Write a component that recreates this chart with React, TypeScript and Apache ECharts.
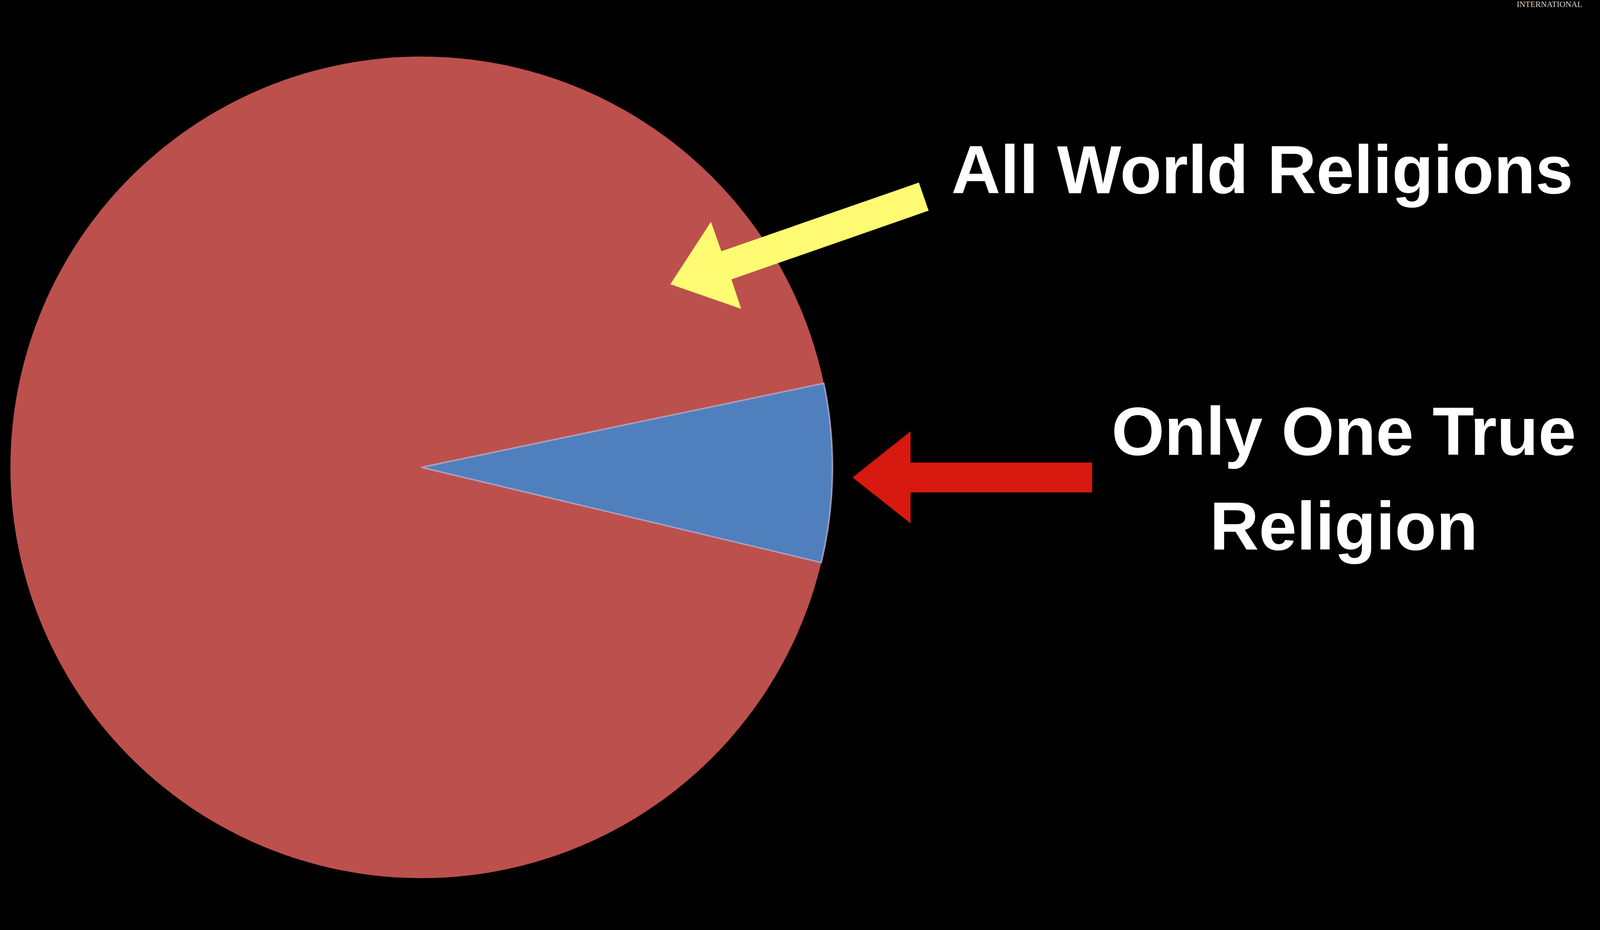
import React, { useEffect, useRef } from "react";
import * as echarts from "echarts";

const categories = ["All World Religions", "Only One True Religion"];
const values = [93, 7];
const sliceColors = ["#BC504D", "#4F80BD"];
const labelLines = ["All World Religions", "Only One True", "Religion"];
const brand = "INTERNATIONAL";

// Reference layout frame
const REF_W = 4609;
const REF_H = 2382;

// Annotation arrows (reference frame), first point is the tip
const yellowArrow = [
  [1931, 728],
  [2048, 548],
  [2078, 633],
  [2647, 435],
  [2675, 516],
  [2107, 714],
  [2135, 799],
];
const redArrow = [
  [2456, 1223],
  [2623, 1090],
  [2623, 1180],
  [3146, 1180],
  [3146, 1266],
  [2623, 1266],
  [2623, 1355],
];

export default function App() {
  const ref = useRef<HTMLDivElement>(null);
  useEffect(() => {
    document.body.style.margin = "0";
    document.body.style.background = "#000";
    document.body.style.overflow = "hidden";
    const el = ref.current!;
    const chart = echarts.init(el, null, { renderer: "svg" });
    const W = el.clientWidth;
    const H = el.clientHeight;
    const sx = W / REF_W;
    const sy = H / REF_H;
    const s = Math.min(sx, sy);
    const font = "'Liberation Sans', Arial, Helvetica, sans-serif";

    const placeArrow = (pts: number[][]) => {
      const [tx, ty] = pts[0];
      return pts.map(([x, y]) => [tx * sx + (x - tx) * s, ty * sy + (y - ty) * s]);
    };

    const bigText = (text: string, x: number, y: number) => ({
      type: "text",
      z: 100,
      x: x * sx,
      y: y * sy,
      style: {
        text,
        fill: "#ffffff",
        font: `bold ${Math.round(196 * s)}px ${font}`,
        align: "center",
        verticalAlign: "middle",
      },
    });

    chart.setOption({
      animation: false,
      backgroundColor: "#000000",
      series: [
        {
          type: "pie",
          z: 2,
          center: [1214 * sx, 1197 * sy],
          radius: 1184 * s,
          startAngle: -13.4,
          clockwise: true,
          label: { show: false },
          labelLine: { show: false },
          emphasis: { disabled: true },
          data: categories.map((c, i) => ({
            name: c,
            value: values[i],
            itemStyle: {
              color: sliceColors[i],
              borderColor: i === 1 ? "rgba(185,170,200,0.8)" : "transparent",
              borderWidth: i === 1 ? 4 : 0,
            },
          })),
        },
      ],
      graphic: {
        elements: [
          {
            type: "polygon",
            z: 100,
            shape: { points: placeArrow(yellowArrow) },
            style: { fill: "#FFFB72" },
          },
          {
            type: "polygon",
            z: 100,
            shape: { points: placeArrow(redArrow) },
            style: { fill: "#D7190F" },
          },
          bigText(labelLines[0], 3636, 434),
          bigText(labelLines[1], 3871, 1104),
          bigText(labelLines[2], 3871, 1347),
          {
            type: "text",
            z: 100,
            x: 4558 * sx,
            y: 0,
            style: {
              text: brand,
              fill: "#d4d4d4",
              font: `${Math.round(24 * s)}px 'Liberation Serif', 'DejaVu Serif', serif`,
              align: "right",
              verticalAlign: "top",
            },
          },
        ],
      },
    });
    return () => chart.dispose();
  }, []);
  return (
    <div
      ref={ref}
      style={{ position: "absolute", left: 0, top: 0, width: "100vw", height: "100vh" }}
    />
  );
}
